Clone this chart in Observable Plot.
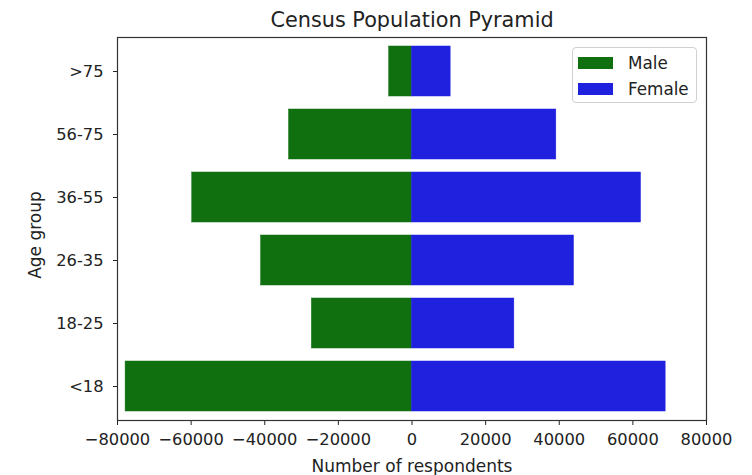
<!DOCTYPE html>
<html>
<head>
<meta charset="utf-8">
<script src="https://cdn.jsdelivr.net/npm/d3@7"></script>
<script src="https://cdn.jsdelivr.net/npm/@observablehq/plot@0.6"></script>
<style>
  body { margin: 0; background: #fff; font-family: "DejaVu Sans", sans-serif; }
  #wrap { position: relative; width: 752px; height: 475px; }
  #title { height: 30px; text-align: center; font-size: 20.8px; color: #222; line-height: 30px; padding-left: 72px; box-sizing: border-box; padding-top: 5px; white-space: nowrap; }
  #legend { position: absolute; left: 572px; top: 47px; width: 125px; height: 56px; border: 1px solid #d0d0d0; border-radius: 4px; background: rgba(255,255,255,0.8); box-sizing: border-box; font-size: 16.8px; color: #222; }
  .item { position: absolute; left: 5px; height: 14px; display: flex; align-items: center; }
  .sw { width: 35px; height: 12px; margin-right: 15px; }
</style>
</head>
<body>
<div id="wrap">
  <div id="title">Census Population Pyramid</div>
  <div id="chart"></div>
  <div id="legend"></div>
</div>
<script>
const ageGroups = [">75", "56-75", "36-55", "26-35", "18-25", "<18"];
const maleValues = [-6200, -33400, -59700, -41000, -27200, -77800];
const femaleValues = [10500, 39200, 62200, 44000, 27800, 68900];
const sexes = ["Male", "Female"];
const sexColors = ["#107010", "#2020df"];
const xTicks = [-80000, -60000, -40000, -20000, 0, 20000, 40000, 60000, 80000];
const xLabel = "Number of respondents";
const yLabel = "Age group";

const rows = [];
ageGroups.forEach((a, i) => {
  rows.push({age: a, sex: "Male", value: maleValues[i]});
  rows.push({age: a, sex: "Female", value: femaleValues[i]});
});

const fmt = d => d < 0 ? "\u2212" + Math.abs(d) : String(d);

const plot = Plot.plot({
  width: 752,
  height: 445,
  marginTop: 7,
  marginBottom: 55,
  marginLeft: 117,
  marginRight: 46,
  style: {fontFamily: "DejaVu Sans, sans-serif", fontSize: "16.3px", color: "#222", background: "#fff"},
  x: {domain: [-80000, 80000], ticks: xTicks, tickFormat: fmt, tickSize: 5, tickPadding: 8, label: null},
  y: {domain: ageGroups, paddingInner: 0.2, paddingOuter: 0.108, tickSize: 4, tickPadding: 10, label: null},
  color: {domain: sexes, range: sexColors},
  marks: [
    Plot.barX(rows, {x1: 0, x2: "value", y: "age", fill: "sex", stroke: "sex", strokeWidth: 0.5}),
    Plot.frame({stroke: "#333", strokeWidth: 1.2}),
    Plot.text([xLabel], {text: d => d, frameAnchor: "bottom", dy: 51, lineAnchor: "bottom", fontSize: 17, fill: "#222"}),
    Plot.text([yLabel], {text: d => d, frameAnchor: "left", textAnchor: "middle", rotate: -90, dx: -77, dy: 6, lineAnchor: "bottom", fontSize: 17, fill: "#222"})
  ]
});
document.getElementById("chart").appendChild(plot);

const leg = document.getElementById("legend");
sexes.forEach((s, i) => {
  const it = document.createElement("div");
  it.className = "item";
  it.style.top = (8 + i * 25.5) + "px";
  const sw = document.createElement("div");
  sw.className = "sw";
  sw.style.background = sexColors[i];
  const t = document.createElement("span");
  t.textContent = s;
  it.appendChild(sw);
  it.appendChild(t);
  leg.appendChild(it);
});
</script>
</body>
</html>
